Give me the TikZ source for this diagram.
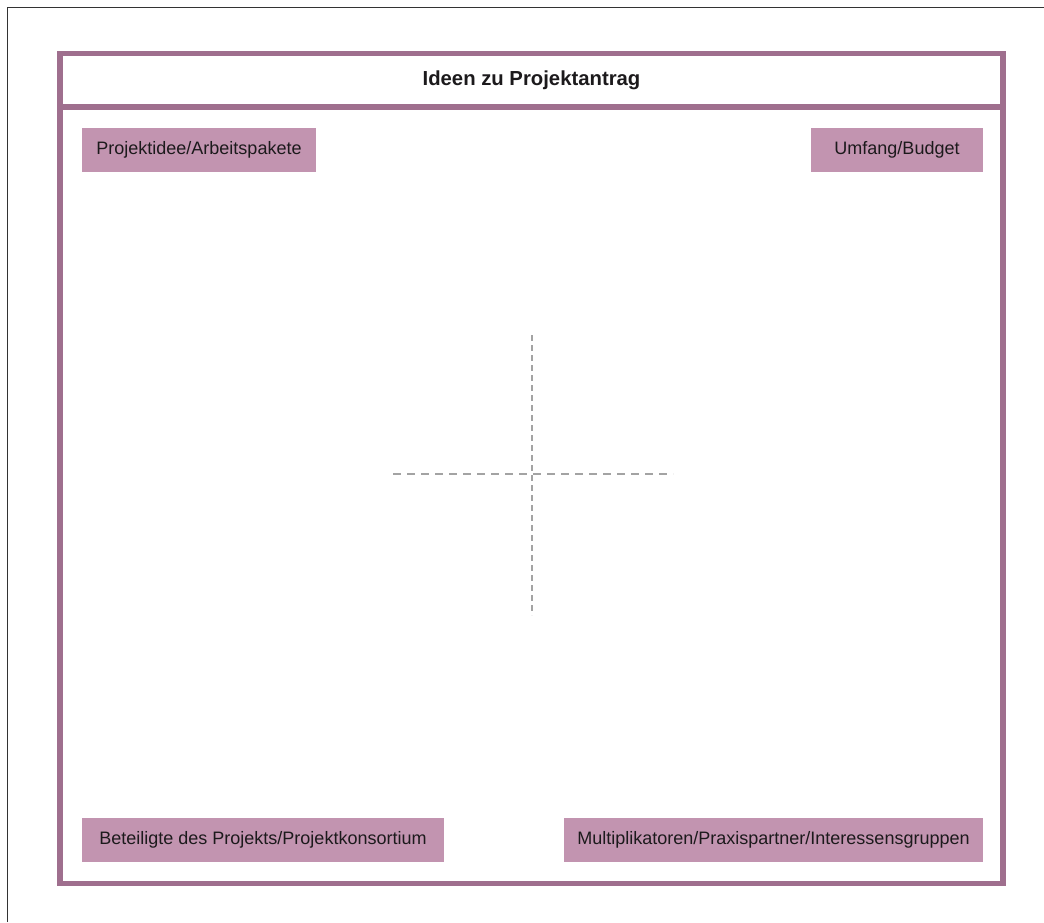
\documentclass[tikz,border=0pt]{standalone}
\usepackage{fontspec}
\setmainfont{Liberation Sans}
\begin{document}
\definecolor{frameviolet}{HTML}{9F6F8E}
\definecolor{labelfill}{HTML}{C294B0}
\definecolor{textdark}{HTML}{1C1A1C}
\definecolor{crossgray}{HTML}{A3A3A3}
\begin{tikzpicture}[x=1pt,y=-1pt,
  frameline/.style={draw=frameviolet,line width=5.5pt},
  labelbox/.style={fill=labelfill,draw=none,minimum height=44pt,inner sep=0pt,
    text=textdark,font=\fontsize{18}{21}\selectfont,anchor=center},
  titletext/.style={text=textdark,font=\fontsize{20.3}{23}\selectfont\bfseries},
  hdash/.style={draw=crossgray,line width=2pt,dash pattern=on 8pt off 6pt},
  vdash/.style={draw=crossgray,line width=2pt,dash pattern=on 6pt off 4pt}]
  % page area
  \useasboundingbox (0,0) rectangle (1044,922);
  \fill[white] (0,0) rectangle (1044,922);
  % thin outer edge on left and top
  \coordinate (edgeBL) at (7.5,922);
  \coordinate (edgeTL) at (7.5,7.5);
  \coordinate (edgeTR) at (1044,7.5);
  \draw[draw=black!80,line width=1.4pt] (edgeBL) -- (edgeTL) -- (edgeTR);
  % main frame with header band
  \coordinate (frameTL) at (60,53.5);
  \coordinate (frameBR) at (1003,883.5);
  \coordinate (sepL) at (60,107);
  \coordinate (sepR) at (1003,107);
  \draw[frameline] (frameTL) rectangle (frameBR);
  \draw[frameline] (sepL) -- (sepR);
  \node[titletext] (title) at (531.5,80) {Ideen zu Projektantrag};
  % corner labels
  \node[labelbox,minimum width=234pt] (idee) at (199,150) {Projektidee/Arbeitspakete};
  \node[labelbox,minimum width=172pt] (budget) at (897,150) {Umfang/Budget};
  \node[labelbox,minimum width=362pt] (beteiligte) at (263,840) {Beteiligte des Projekts/Projektkonsortium};
  \node[labelbox,minimum width=419pt] (multi) at (773.5,840) {Multiplikatoren/Praxispartner/Interessensgruppen};
  % dashed cross in the middle
  \coordinate (crossT) at (532,335);
  \coordinate (crossB) at (532,615);
  \coordinate (crossL) at (393,474);
  \coordinate (crossR) at (673,474);
  \draw[vdash] (crossT) -- (crossB);
  \draw[hdash] (crossL) -- (crossR);
\end{tikzpicture}
\end{document}
